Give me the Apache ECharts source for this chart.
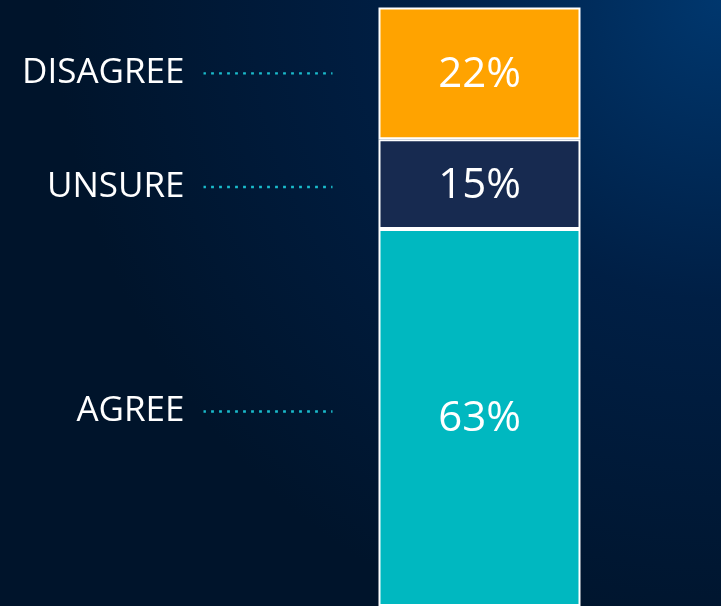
<!DOCTYPE html>
<html>
<head>
<meta charset="utf-8">
<script src="https://cdn.jsdelivr.net/npm/echarts@6/dist/echarts.min.js"></script>
<style>
html,body{margin:0;padding:0;background:#001530;}
#c{width:721px;height:606px;}
</style>
</head>
<body>
<div id="c"></div>
<script>
const categories = ['Response'];
const seriesNames = ['AGREE', 'UNSURE', 'DISAGREE'];
const seriesValues = [63, 15, 22];
const seriesColors = ['#00B8C0', '#172A50', '#FFA300'];
const nameOffsets = [[0, -6], [0, 3], [0, 0]];

const chart = echarts.init(document.getElementById('c'));

const series = [];
seriesNames.forEach((name, i) => {
  series.push({
    name: name,
    type: 'bar',
    stack: 'main',
    xAxisIndex: 0,
    barWidth: '100%',
    data: [seriesValues[i]],
    itemStyle: { color: seriesColors[i], borderColor: '#ffffff', borderWidth: 2 },
    label: {
      show: true,
      position: 'inside',
      formatter: p => p.value + '%',
      color: '#ffffff',
      fontFamily: 'Open Sans',
      fontSize: 42,
      offset: [0, 2]
    },
    silent: true
  });
});
seriesNames.forEach((name, i) => {
  series.push({
    name: name + ' label',
    type: 'bar',
    stack: 'names',
    xAxisIndex: 1,
    barWidth: '100%',
    data: [seriesValues[i]],
    itemStyle: { color: 'rgba(0,0,0,0)' },
    label: {
      show: true,
      position: 'left',
      distance: 46,
      offset: nameOffsets[i],
      formatter: () => '{n|' + name + '}{d|}',
      rich: {
        n: { color: '#ffffff', fontFamily: 'Open Sans', fontSize: 35, padding: [0, 19, 0, 0] },
        d: { width: 129, height: 0, borderColor: '#1ABBCB', borderWidth: 2.4, borderType: [2.4, 5.6] }
      }
    },
    silent: true
  });
});

chart.setOption({
  animation: false,
  backgroundColor: {
    type: 'radial', x: 1, y: 0, r: 1.1,
    colorStops: [
      { offset: 0, color: '#00376e' },
      { offset: 0.45, color: '#001f45' },
      { offset: 1, color: '#00142b' }
    ]
  },
  grid: { left: 378.5, right: 140.5, top: 7.5, bottom: 0 },
  xAxis: [
    { type: 'category', data: categories, show: false },
    { type: 'category', data: categories, show: false }
  ],
  yAxis: { type: 'value', min: 0, max: 100, show: false },
  series: series
});
</script>
</body>
</html>
